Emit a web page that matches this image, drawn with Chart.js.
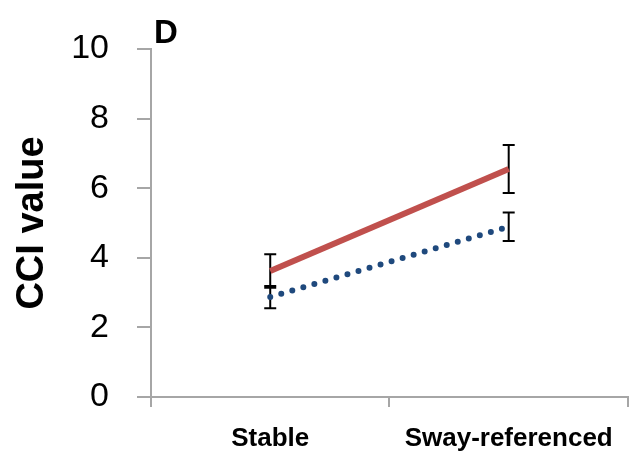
<!DOCTYPE html>
<html>
<head>
<meta charset="utf-8">
<script src="https://cdn.jsdelivr.net/npm/chart.js@4"></script>
<style>
  html, body { margin: 0; padding: 0; background: #fff; }
  #wrap { width: 629px; height: 454px; }
</style>
</head>
<body>
<div id="wrap"><canvas id="cci-chart"></canvas></div>
<script>
const categories = ['Stable', 'Sway-referenced'];
const redMean = [3.62, 6.55];
const redErr = [0.48, 0.69];
const blueMean = [2.87, 4.89];
const blueErr = [0.32, 0.41];
const yTicks = [0, 2, 4, 6, 8, 10];

const axisGrey = '#a6a6a6';
const errors = [redErr, blueErr];

// error bars drawn under the lines
const errorBars = {
  id: 'errorBars',
  beforeDatasetsDraw(chart) {
    const ctx = chart.ctx;
    const y = chart.scales.y;
    ctx.save();
    ctx.strokeStyle = '#000';
    ctx.lineWidth = 2;
    chart.data.datasets.forEach((ds, i) => {
      const meta = chart.getDatasetMeta(i);
      meta.data.forEach((pt, j) => {
        const top = y.getPixelForValue(ds.data[j] + errors[i][j]);
        const bot = y.getPixelForValue(ds.data[j] - errors[i][j]);
        ctx.beginPath();
        ctx.moveTo(pt.x, top); ctx.lineTo(pt.x, bot);
        ctx.moveTo(pt.x - 6, top); ctx.lineTo(pt.x + 6, top);
        ctx.moveTo(pt.x - 6, bot); ctx.lineTo(pt.x + 6, bot);
        ctx.stroke();
      });
    });
    ctx.restore();
  }
};

// panel letter
const panelLabel = {
  id: 'panelLabel',
  afterDraw(chart) {
    const ctx = chart.ctx;
    ctx.save();
    ctx.fillStyle = '#000';
    ctx.font = 'bold 33px "Liberation Sans", Arial, sans-serif';
    ctx.textAlign = 'left';
    ctx.textBaseline = 'alphabetic';
    ctx.fillText('D', chart.chartArea.left + 3, 43);
    ctx.restore();
  }
};

new Chart(document.getElementById('cci-chart'), {
  type: 'line',
  data: {
    labels: categories,
    datasets: [{
      data: redMean,
      borderColor: '#c0504d',
      borderWidth: 6,
      pointRadius: 0
    }, {
      data: blueMean,
      borderColor: '#1f497d',
      borderWidth: 6,
      borderDash: [0, 11.5],
      borderCapStyle: 'round',
      pointRadius: 0
    }]
  },
  options: {
    responsive: true,
    maintainAspectRatio: false,
    animation: false,
    layout: { padding: { top: 49, right: 1, left: 0, bottom: 0 } },
    plugins: {
      legend: { display: false },
      tooltip: { enabled: false }
    },
    scales: {
      x: {
        offset: true,
        afterFit: s => { s.height = 57; },
        grid: { offset: true, drawOnChartArea: false, tickLength: 10, color: axisGrey, lineWidth: 2 },
        border: { color: axisGrey, width: 2 },
        ticks: {
          padding: 16,
          color: '#000',
          font: { family: '"Liberation Sans", Arial, sans-serif', size: 26, weight: 'bold' }
        }
      },
      y: {
        min: 0,
        max: 10,
        afterFit: s => { s.width = 151; },
        afterBuildTicks: s => { s.ticks = yTicks.map(v => ({ value: v })); },
        grid: { drawOnChartArea: false, tickLength: 14, color: axisGrey, lineWidth: 2 },
        border: { color: axisGrey, width: 2 },
        ticks: {
          padding: 28,
          color: '#000',
          font: { family: '"Liberation Sans", Arial, sans-serif', size: 34 }
        },
        title: {
          display: true,
          text: 'CCI value',
          color: '#000',
          padding: { top: 10, bottom: 0 },
          font: { family: '"Liberation Sans", Arial, sans-serif', size: 38, weight: 'bold' }
        }
      }
    }
  },
  plugins: [errorBars, panelLabel]
});
</script>
</body>
</html>
